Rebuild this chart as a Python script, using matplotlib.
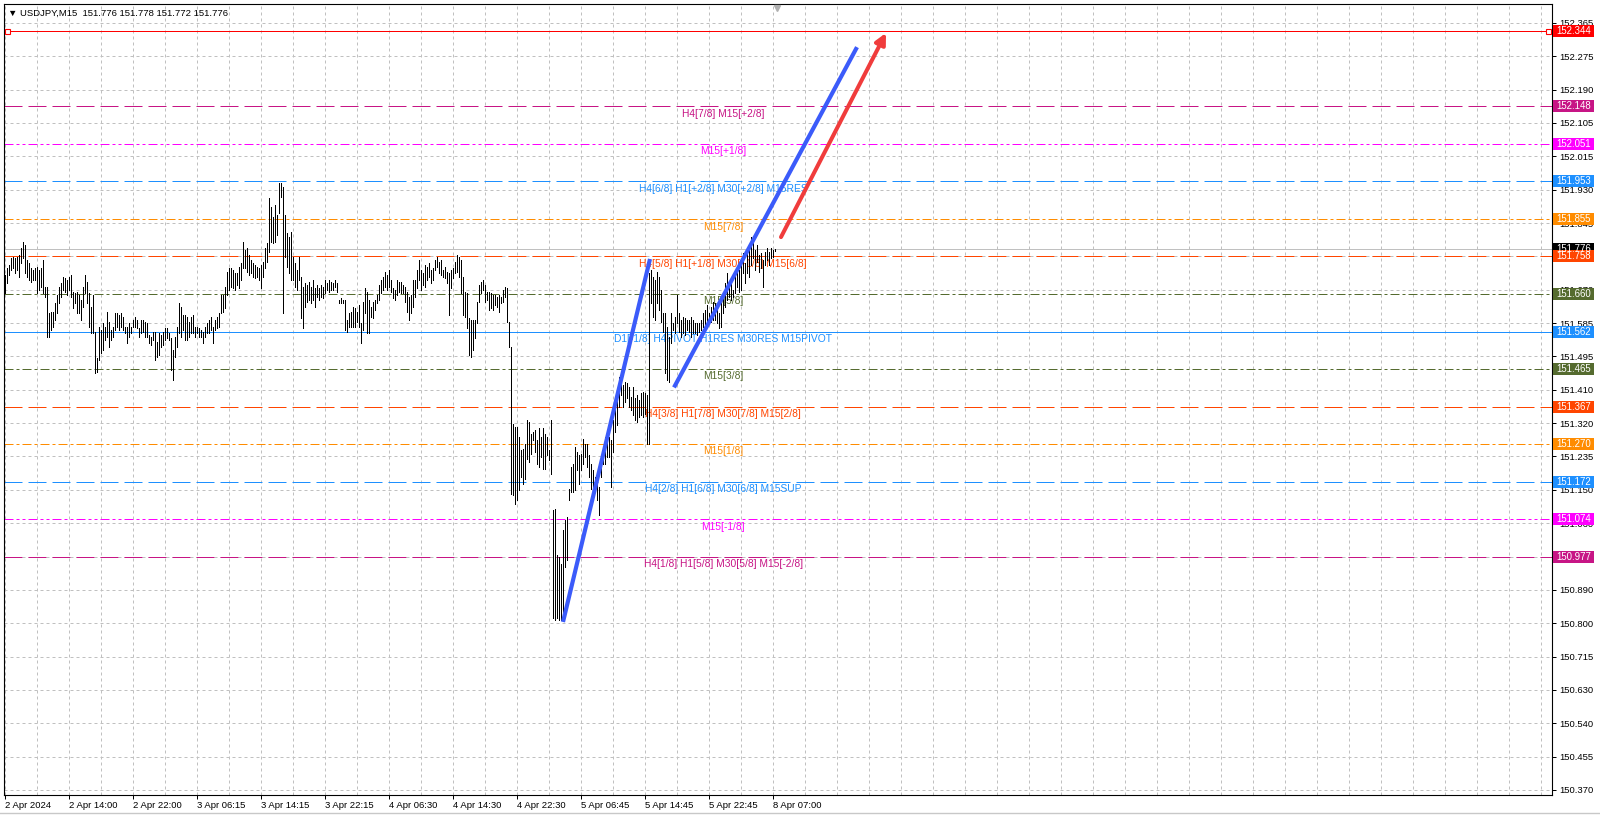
import matplotlib
matplotlib.use('Agg')
import matplotlib.pyplot as plt
import numpy as np
from matplotlib import transforms
from matplotlib.patches import Rectangle
from matplotlib.lines import Line2D

plt.rcParams['font.family'] = ['Liberation Sans', 'DejaVu Sans']

# USDJPY M15 bars (high / low per bar)
highs = [
 151.709, 151.727, 151.735, 151.753, 151.757, 151.753, 151.757, 151.761, 151.779, 151.796,
 151.787, 151.748, 151.740, 151.727, 151.722, 151.727, 151.731, 151.722, 151.727, 151.748,
 151.679, 151.679, 151.610, 151.614, 151.614, 151.636, 151.657, 151.679, 151.688, 151.705,
 151.701, 151.696, 151.705, 151.709, 151.666, 151.662, 151.666, 151.657, 151.644, 151.679,
 151.709, 151.692, 151.662, 151.627, 151.657, 151.562, 151.493, 151.575, 151.566, 151.584,
 151.575, 151.614, 151.588, 151.566, 151.575, 151.610, 151.610, 151.605, 151.610, 151.601,
 151.575, 151.575, 151.584, 151.575, 151.592, 151.601, 151.592, 151.571, 151.592, 151.592,
 151.588, 151.584, 151.553, 151.549, 151.562, 151.562, 151.536, 151.558, 151.553, 151.562,
 151.571, 151.571, 151.558, 151.545, 151.514, 151.549, 151.575, 151.636, 151.627, 151.605,
 151.605, 151.601, 151.588, 151.601, 151.605, 151.575, 151.575, 151.571, 151.566, 151.562,
 151.575, 151.584, 151.592, 151.601, 151.575, 151.592, 151.601, 151.610, 151.657, 151.657,
 151.679, 151.718, 151.727, 151.727, 151.722, 151.714, 151.714, 151.731, 151.740, 151.796,
 151.774, 151.779, 151.761, 151.748, 151.740, 151.735, 151.731, 151.727, 151.735, 151.744,
 151.779, 151.792, 151.909, 151.887, 151.861, 151.892, 151.866, 151.948, 151.948, 151.939,
 151.866, 151.818, 151.809, 151.822, 151.757, 151.740, 151.722, 151.757, 151.705, 151.679,
 151.688, 151.683, 151.692, 151.679, 151.696, 151.675, 151.683, 151.675, 151.683, 151.679,
 151.696, 151.688, 151.696, 151.692, 151.688, 151.696, 151.688, 151.644, 151.649, 151.644,
 151.644, 151.592, 151.610, 151.614, 151.627, 151.623, 151.614, 151.631, 151.584, 151.640,
 151.675, 151.666, 151.644, 151.627, 151.640, 151.644, 151.657, 151.683, 151.696, 151.705,
 151.718, 151.709, 151.722, 151.696, 151.675, 151.670, 151.696, 151.692, 151.692, 151.683,
 151.679, 151.666, 151.653, 151.657, 151.696, 151.696, 151.722, 151.748, 151.722, 151.714,
 151.735, 151.731, 151.740, 151.722, 151.727, 151.748, 151.757, 151.744, 151.748, 151.722,
 151.731, 151.718, 151.714, 151.722, 151.727, 151.744, 151.761, 151.757, 151.748, 151.705,
 151.666, 151.662, 151.597, 151.592, 151.592, 151.592, 151.640, 151.683, 151.692, 151.696,
 151.683, 151.666, 151.666, 151.662, 151.657, 151.657, 151.653, 151.657, 151.653, 151.670,
 151.679, 151.675, 151.588, 151.523, 151.323, 151.315, 151.315, 151.289, 151.254, 151.258,
 151.271, 151.332, 151.328, 151.297, 151.302, 151.306, 151.280, 151.311, 151.289, 151.311,
 151.297, 151.289, 151.254, 151.332, 151.098, 151.102, 150.981, 150.977, 150.959, 151.046,
 151.072, 151.081, 151.154, 151.211, 151.219, 151.263, 151.250, 151.241, 151.245, 151.284,
 151.271, 151.271, 151.241, 151.219, 151.202, 151.185, 151.180, 151.159, 151.237, 151.254,
 151.289, 151.289, 151.289, 151.280, 151.332, 151.358, 151.410, 151.445, 151.436, 151.423,
 151.432, 151.428, 151.419, 151.393, 151.419, 151.389, 151.397, 151.384, 151.402, 151.406,
 151.402, 151.397, 151.714, 151.722, 151.705, 151.696, 151.718, 151.705, 151.670, 151.610,
 151.610, 151.575, 151.549, 151.610, 151.584, 151.601, 151.657, 151.610, 151.592, 151.601,
 151.597, 151.592, 151.592, 151.601, 151.592, 151.584, 151.584, 151.584, 151.592, 151.610,
 151.618, 151.631, 151.610, 151.627, 151.640, 151.636, 151.623, 151.610, 151.636, 151.653,
 151.688, 151.714, 151.692, 151.688, 151.670, 151.714, 151.727, 151.722, 151.744, 151.766,
 151.740, 151.766, 151.783, 151.809, 151.796, 151.774, 151.787, 151.761, 151.766, 151.748,
 151.770, 151.779, 151.770, 151.779, 151.774, 151.778,
]
lows = [
 151.662, 151.688, 151.709, 151.722, 151.727, 151.714, 151.722, 151.705, 151.740, 151.753,
 151.714, 151.705, 151.696, 151.692, 151.696, 151.696, 151.662, 151.670, 151.679, 151.662,
 151.653, 151.549, 151.549, 151.566, 151.575, 151.592, 151.610, 151.636, 151.653, 151.670,
 151.666, 151.657, 151.670, 151.653, 151.623, 151.636, 151.610, 151.610, 151.592, 151.627,
 151.662, 151.636, 151.575, 151.558, 151.558, 151.454, 151.458, 151.488, 151.506, 151.514,
 151.540, 151.549, 151.523, 151.540, 151.549, 151.566, 151.575, 151.566, 151.575, 151.566,
 151.558, 151.532, 151.549, 151.558, 151.575, 151.575, 151.571, 151.549, 151.558, 151.562,
 151.549, 151.549, 151.532, 151.527, 151.540, 151.488, 151.497, 151.501, 151.523, 151.527,
 151.540, 151.545, 151.540, 151.462, 151.436, 151.497, 151.523, 151.558, 151.549, 151.566,
 151.540, 151.540, 151.549, 151.558, 151.558, 151.549, 151.558, 151.549, 151.549, 151.532,
 151.549, 151.558, 151.558, 151.566, 151.532, 151.566, 151.571, 151.575, 151.610, 151.614,
 151.623, 151.657, 151.670, 151.679, 151.675, 151.670, 151.683, 151.675, 151.696, 151.727,
 151.727, 151.718, 151.709, 151.714, 151.705, 151.701, 151.705, 151.696, 151.675, 151.705,
 151.727, 151.744, 151.770, 151.796, 151.792, 151.796, 151.813, 151.870, 151.913, 151.610,
 151.757, 151.731, 151.714, 151.696, 151.696, 151.679, 151.670, 151.696, 151.597, 151.571,
 151.627, 151.640, 151.644, 151.636, 151.644, 151.627, 151.653, 151.644, 151.653, 151.649,
 151.662, 151.670, 151.666, 151.670, 151.670, 151.679, 151.666, 151.636, 151.636, 151.636,
 151.566, 151.562, 151.575, 151.575, 151.575, 151.575, 151.588, 151.575, 151.532, 151.566,
 151.610, 151.558, 151.558, 151.601, 151.597, 151.618, 151.636, 151.644, 151.662, 151.670,
 151.679, 151.670, 151.679, 151.666, 151.649, 151.644, 151.657, 151.666, 151.662, 151.662,
 151.640, 151.614, 151.592, 151.610, 151.627, 151.653, 151.675, 151.696, 151.670, 151.683,
 151.679, 151.696, 151.705, 151.688, 151.696, 151.722, 151.731, 151.714, 151.709, 151.705,
 151.701, 151.688, 151.605, 151.675, 151.701, 151.714, 151.718, 151.705, 151.662, 151.605,
 151.601, 151.571, 151.501, 151.497, 151.514, 151.545, 151.584, 151.640, 151.662, 151.670,
 151.640, 151.644, 151.618, 151.623, 151.618, 151.631, 151.627, 151.614, 151.636, 151.640,
 151.653, 151.588, 151.523, 151.141, 151.137, 151.115, 151.124, 151.150, 151.185, 151.167,
 151.180, 151.232, 151.224, 151.245, 151.280, 151.250, 151.219, 151.211, 151.237, 151.206,
 151.206, 151.241, 151.228, 151.193, 150.817, 150.812, 150.817, 150.812, 150.812, 150.821,
 150.951, 150.968, 151.124, 151.146, 151.146, 151.150, 151.202, 151.167, 151.202, 151.219,
 151.237, 151.211, 151.185, 151.154, 151.146, 151.146, 151.124, 151.085, 151.185, 151.219,
 151.219, 151.237, 151.237, 151.159, 151.250, 151.302, 151.319, 151.367, 151.397, 151.367,
 151.380, 151.389, 151.367, 151.358, 151.345, 151.332, 151.328, 151.341, 151.345, 151.341,
 151.349, 151.271, 151.271, 151.636, 151.601, 151.592, 151.636, 151.618, 151.588, 151.562,
 151.454, 151.436, 151.432, 151.532, 151.566, 151.558, 151.584, 151.562, 151.549, 151.558,
 151.553, 151.566, 151.562, 151.549, 151.558, 151.558, 151.553, 151.562, 151.566, 151.575,
 151.579, 151.584, 151.584, 151.588, 151.592, 151.592, 151.584, 151.571, 151.575, 151.610,
 151.627, 151.644, 151.653, 151.644, 151.653, 151.662, 151.679, 151.666, 151.670, 151.714,
 151.688, 151.714, 151.705, 151.735, 151.753, 151.722, 151.744, 151.718, 151.727, 151.679,
 151.735, 151.748, 151.735, 151.753, 151.757, 151.772,
]

time_labels = ['2 Apr 2024', '2 Apr 14:00', '2 Apr 22:00', '3 Apr 06:15', '3 Apr 14:15',
               '3 Apr 22:15', '4 Apr 06:30', '4 Apr 14:30', '4 Apr 22:30', '5 Apr 06:45',
               '5 Apr 14:45', '5 Apr 22:45', '8 Apr 07:00']

price_labels = ['150.370', '150.455', '150.540', '150.630', '150.715', '150.800', '150.890',
                '150.975', '151.060', '151.150', '151.235', '151.320', '151.410', '151.495',
                '151.585', '151.670', '151.755', '151.845', '151.930', '152.015', '152.105',
                '152.190', '152.275', '152.365']

# murrey math levels
levels = [152.344, 152.148, 152.051, 151.953, 151.855, 151.758, 151.660,
          151.562, 151.465, 151.367, 151.270, 151.172, 151.074, 150.977]
level_names = ['', 'H4[7/8] M15[+2/8]', 'M15[+1/8]', 'H4[6/8] H1[+2/8] M30[+2/8] M15RES',
               'M15[7/8]', 'H4[5/8] H1[+1/8] M30[+1/8] M15[6/8]', 'M15[5/8]',
               'D1[-1/8] H4PIVOT H1RES M30RES M15PIVOT', 'M15[3/8]',
               'H4[3/8] H1[7/8] M30[7/8] M15[2/8]', 'M15[1/8]',
               'H4[2/8] H1[6/8] M30[6/8] M15SUP', 'M15[-1/8]',
               'H4[1/8] H1[5/8] M30[5/8] M15[-2/8]']
current_price = 151.776

# drawn trend lines (bar index, price)
blue1_x, blue1_y = [279, 322.5], [150.807, 151.751]
blue2_x, blue2_y = [334.5, 426], [151.417, 152.302]
arrow_x, arrow_y = [388, 440.5], [151.808, 152.339]

# styles
DASH = (0, (18, 6))
DASHDOT = (0, (9, 3, 3, 3))
DASHDOTDOT = (0, (9, 3, 3, 3, 3, 3))
level_colors = ['#ff0000', '#c71585', '#ff00ff', '#1e90ff', '#ff8c00', '#ff4500', '#556b2f',
                '#1e90ff', '#556b2f', '#ff4500', '#ff8c00', '#1e90ff', '#ff00ff', '#c71585']
level_styles = ['-', DASH, DASHDOTDOT, DASH, DASHDOT, DASH, DASHDOT,
                '-', DASHDOT, DASH, DASHDOT, DASH, DASHDOTDOT, DASH]

W, H = 1600, 817
fig = plt.figure(figsize=(W / 100, H / 100), dpi=100)
ax = fig.add_axes([4 / W, 1 - 795 / H, 1548 / W, 791 / H])

px = 0.0026008  # price per pixel
ax.set_xlim(-0.5, 773.5)
ax.set_ylim(150.370 - 5 * px, 152.344 + 27 * px)

# grid
ytick_pos = np.linspace(150.370, 152.365, len(price_labels))
for y in ytick_pos:
    ax.axhline(y, color='#c0c0c0', lw=0.72, ls=(0, (3, 3)), zorder=0)
for x in range(0, 774, 16):
    ax.axvline(x, color='#c0c0c0', lw=0.72, ls=(0, (3, 3)), zorder=0)

# levels
ax.axhline(current_price, color='#c0c0c0', lw=0.72, zorder=1)
for p, c, s, name in zip(levels, level_colors, level_styles, level_names):
    ax.axhline(p, color=c, lw=0.72, ls=s, zorder=1)
    if name:
        ax.annotate(name, xy=(359, p), xytext=(0, -1.8), textcoords='offset points',
                    ha='center', va='top', color=c, fontsize=7.4, zorder=2)

# end squares of the top red line
blend_ad = transforms.blended_transform_factory(ax.transAxes, ax.transData)
ax.plot([0.002, 0.9975], [levels[0]] * 2, ls='none', marker='s', ms=3.6,
        mfc='white', mec='#ff0000', mew=0.8, transform=blend_ad, clip_on=False, zorder=3)

# bars
n = len(highs)
ax.vlines(np.arange(n), lows, highs, color='black', lw=0.6, antialiased=False, zorder=3)

# trend lines + arrow
ax.plot(blue1_x, blue1_y, color='#3b5bfa', lw=3.0, solid_capstyle='butt', zorder=4)
ax.plot(blue2_x, blue2_y, color='#3b5bfa', lw=3.0, solid_capstyle='butt', zorder=4)
ax.annotate('', xy=(arrow_x[1], arrow_y[1]), xytext=(arrow_x[0], arrow_y[0]),
            arrowprops=dict(arrowstyle='-|>', color='#f03c3c', lw=2.9,
                            mutation_scale=16, shrinkA=0, shrinkB=0), zorder=4)

# shift marker at top
blend_da = transforms.blended_transform_factory(ax.transData, ax.transAxes)
ax.plot([386], [0.9955], marker='v', ms=5, color='#b0b0b0', transform=blend_da,
        clip_on=False, zorder=4)

# axes styling
for sp in ax.spines.values():
    sp.set_color('black')
    sp.set_linewidth(0.8)
ax.yaxis.tick_right()
ax.set_yticks(ytick_pos)
ax.set_yticklabels(price_labels)
ax.set_xticks(np.arange(0, 32 * len(time_labels), 32))
ax.set_xticklabels(time_labels)
for lbl in ax.get_xticklabels():
    lbl.set_ha('left')
ax.tick_params(axis='y', which='both', length=3, width=0.72, pad=2, labelsize=6.8,
               colors='black', left=False, right=True)
ax.tick_params(axis='x', length=3, width=0.72, pad=1.5, labelsize=6.8, colors='black')

# price boxes on the right
bw, bh = 41 / 1548, 12 * px
boxes = [(current_price, '#000000')] + list(zip(levels, level_colors))
for p, c in boxes:
    ax.add_patch(Rectangle((1.0008, p - bh / 2), bw, bh, transform=blend_ad,
                           facecolor=c, edgecolor='none', clip_on=False, zorder=10))
    ax.text(1.0008 + bw / 2, p, f'{p:.3f}', transform=blend_ad, ha='center',
            va='center', color='white', fontsize=6.9, clip_on=False, zorder=11)

# header
fig.text(8 / W, 1 - 13 / H, '\u25bc USDJPY,M15  151.776 151.778 151.772 151.776',
         ha='left', va='center', fontsize=6.8, color='black')

fig.add_artist(Line2D([0, 1], [1 - 813 / H] * 2, color='#c8c8c8', lw=1,
                      transform=fig.transFigure))

fig.savefig('out.png', dpi=100, facecolor='white')
